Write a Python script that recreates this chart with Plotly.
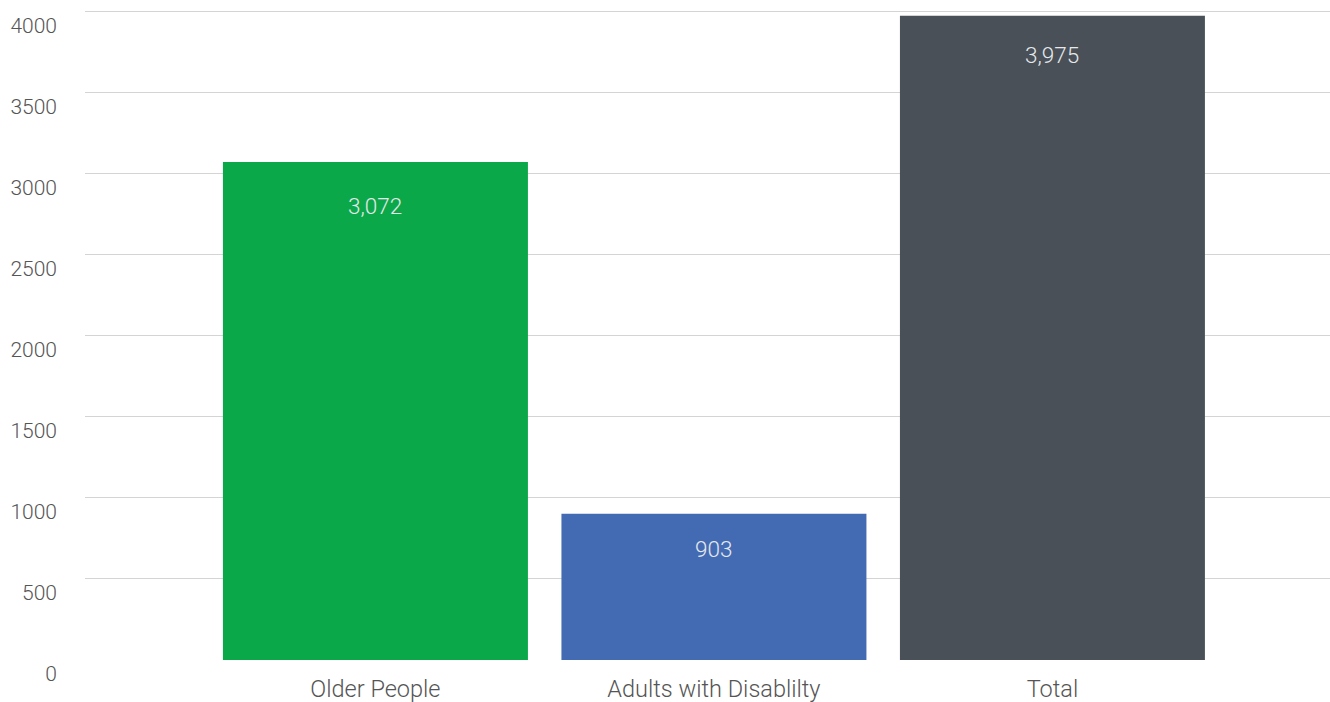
import plotly.graph_objects as go

categories = ["Older People", "Adults with Disablilty", "Total"]
values = [3072, 903, 3975]
bar_colors = ["#0BA84A", "#436BB3", "#495057"]
y_ticks = [0, 500, 1000, 1500, 2000, 2500, 3000, 3500, 4000]

# vertical distance (px) from each bar's top to its value label
label_offsets = [44, 35, 39]

FONT = "Roboto"

fig = go.Figure()
fig.add_trace(go.Bar(
    x=list(range(len(categories))),
    y=values,
    width=0.901,
    marker=dict(color=bar_colors, line=dict(width=0)),
    hoverinfo="skip",
))

for i, v in enumerate(values):
    fig.add_annotation(
        x=i, y=v, text=f"{v:,}", showarrow=False,
        yanchor="middle", yshift=-label_offsets[i],
        font=dict(family=FONT, size=22.5, color="#E6E8EC", weight=300),
    )

fig.update_layout(
    width=1330, height=702,
    margin=dict(l=85, r=0, t=10, b=42),
    paper_bgcolor="white", plot_bgcolor="white",
    showlegend=False,
    font=dict(family=FONT, size=21, color="#555555", weight=300),
    xaxis=dict(
        range=[-0.858, 2.820],
        tickmode="array",
        tickvals=list(range(len(categories))),
        ticktext=categories,
        showgrid=False, zeroline=False, showline=False,
        ticks="", ticklabelstandoff=12,
        tickfont=dict(family=FONT, size=23.5, color="#555555", weight=300),
    ),
    yaxis=dict(
        range=[0, 4010],
        tickmode="array",
        tickvals=y_ticks,
        ticktext=[str(t) for t in y_ticks],
        showgrid=True, gridcolor="#D4D4D4", gridwidth=1,
        zeroline=False, showline=False, ticks="",
        ticklabelshift=14, ticklabelstandoff=27,
        tickfont=dict(family=FONT, size=21, color="#555555", weight=300),
    ),
)

fig.write_html("out.html")
